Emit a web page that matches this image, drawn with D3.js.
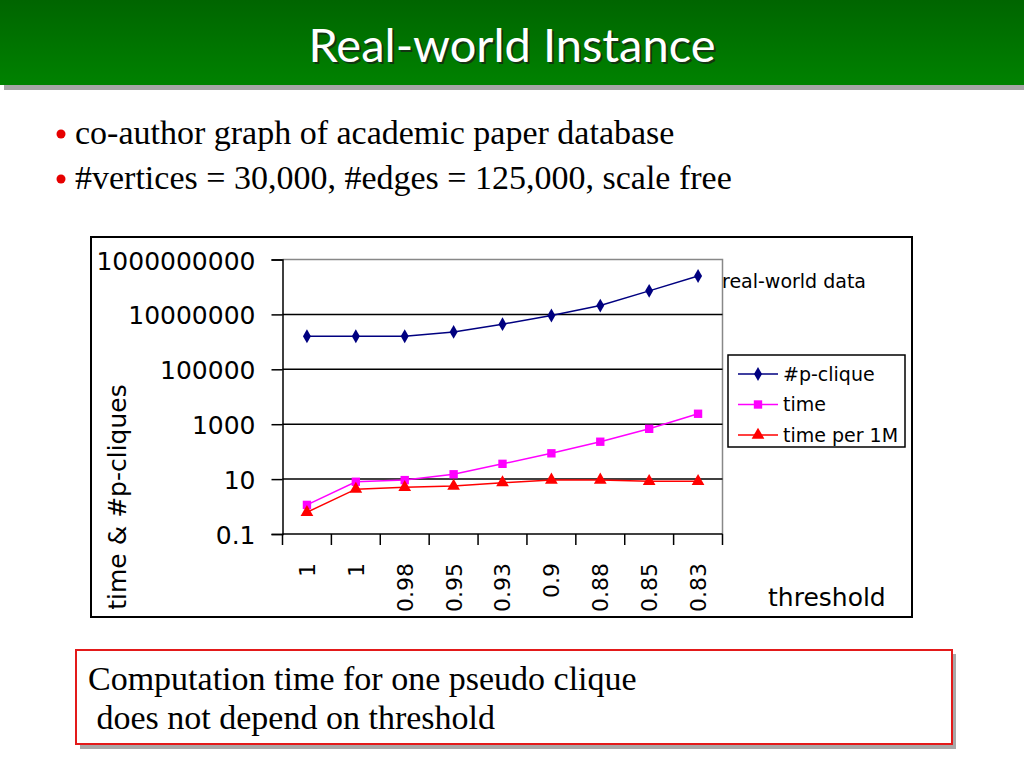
<!DOCTYPE html>
<html>
<head>
<meta charset="utf-8">
<script src="https://cdn.jsdelivr.net/npm/d3@7"></script>
<style>
  body { margin: 0; background: #fff; }
  svg { display: block; }
</style>
</head>
<body>
<div id="chart"></div>
<script>
// threshold categories (two runs at 1)
const thresholds = ["1", "1", "0.98", "0.95", "0.93", "0.9", "0.88", "0.85", "0.83"];

// values
const pClique = [1.6e6, 1.6e6, 1.6e6, 2.3e6, 4.4e6, 9.1e6, 2.1e7, 7.2e7, 2.5e8];
const timeSec = [1.15, 8, 9.2, 15, 36, 87, 230, 680, 2400];
const timePer1M = [0.62, 4.3, 5.0, 5.6, 7.4, 9.3, 9.3, 8.3, 8.3];

const yTicks = [0.1, 10, 1000, 100000, 10000000, 1000000000];
const yTickLabels = ["0.1", "10", "1000", "100000", "10000000", "1000000000"];

const seriesNames = ["#p-clique", "time", "time per 1M"];
const bullets = [
    "co-author graph of academic paper database",
    "#vertices = 30,000, #edges = 125,000, scale free"
];
const noteLines = ["Computation time for one pseudo clique", " does not depend on threshold"];

const series = [
    {name: seriesNames[0], values: pClique, color: "#000080", symbol: d3.symbolDiamond, size: 55},
    {name: seriesNames[1], values: timeSec, color: "#ff00ff", symbol: d3.symbolSquare, size: 70},
    {name: seriesNames[2], values: timePer1M, color: "#ff0000", symbol: d3.symbolTriangle, size: 70}
];

const svg = d3.select("#chart").append("svg")
    .attr("width", 1024)
    .attr("height", 768);

// ---- slide header ----
const defs = svg.append("defs");
const grad = defs.append("linearGradient").attr("id", "hdr").attr("x1", 0).attr("y1", 0).attr("x2", 0).attr("y2", 1);
grad.append("stop").attr("offset", "0%").attr("stop-color", "#006500");
grad.append("stop").attr("offset", "100%").attr("stop-color", "#008200");

svg.append("rect").attr("x", 4).attr("y", 84).attr("width", 1020).attr("height", 6).attr("fill", "#a6a6a6");
svg.append("rect").attr("x", 0).attr("y", 0).attr("width", 1024).attr("height", 85).attr("fill", "url(#hdr)");

svg.append("text")
    .attr("x", 514).attr("y", 64)
    .attr("text-anchor", "middle")
    .style("font-family", "Lato, sans-serif").style("font-size", "47px")
    .attr("fill", "#1a1a1a").attr("opacity", 0.7)
    .text("Real-world Instance");
svg.append("text")
    .attr("x", 512).attr("y", 62)
    .attr("text-anchor", "middle")
    .style("font-family", "Lato, sans-serif").style("font-size", "47px")
    .attr("fill", "#fff")
    .text("Real-world Instance");

// ---- bullets ----
bullets.forEach((t, i) => {
    const by = 144 + i * 45;
    svg.append("circle").attr("cx", 61).attr("cy", by - 10).attr("r", 4.5).attr("fill", "#e60000");
    svg.append("text")
        .attr("x", 75).attr("y", by)
        .style("font-family", "'Liberation Serif', serif").style("font-size", "34px")
        .text(t);
});

// ---- chart frame ----
svg.append("rect")
    .attr("x", 91).attr("y", 237).attr("width", 821).attr("height", 380)
    .attr("fill", "#fff").attr("stroke", "#000").attr("stroke-width", 2);

const plot = {left: 282.5, right: 722.5, top: 259.5, bottom: 534};

const x = d3.scaleBand()
    .domain(d3.range(thresholds.length))
    .range([plot.left, plot.right]);

const y = d3.scaleLog()
    .domain([0.1, 1e9])
    .range([plot.bottom, plot.top]);

// plot area border (top/right gray)
svg.append("path")
    .attr("d", `M${plot.left},${plot.top}H${plot.right}V${plot.bottom}`)
    .attr("fill", "none").attr("stroke", "#888").attr("stroke-width", 1.5);

// gridlines
svg.append("g")
    .selectAll("line")
    .data(yTicks.slice(1, -1))
    .enter().append("line")
    .attr("x1", plot.left).attr("x2", plot.right)
    .attr("y1", d => y(d)).attr("y2", d => y(d))
    .attr("stroke", "#000").attr("stroke-width", 1.5);

// y axis
const yAxis = svg.append("g")
    .attr("transform", `translate(${plot.left},0)`)
    .call(d3.axisLeft(y).tickValues(yTicks).tickSize(11).tickFormat((d, i) => yTickLabels[i]));
yAxis.select(".domain").attr("stroke", "#000").attr("stroke-width", 1.5);
yAxis.selectAll(".tick line").attr("stroke", "#000").attr("stroke-width", 1.5);
yAxis.selectAll(".tick text")
    .attr("x", -27)
    .attr("dy", "0.38em")
    .style("font-family", "'DejaVu Sans', sans-serif").style("font-size", "25px")
    .attr("fill", "#000");

// x axis: ticks at band boundaries
const bounds = d3.range(thresholds.length + 1).map(i => plot.left + i * x.step());
const xAxis = svg.append("g");
xAxis.append("line")
    .attr("x1", plot.left).attr("x2", plot.right)
    .attr("y1", plot.bottom).attr("y2", plot.bottom)
    .attr("stroke", "#000").attr("stroke-width", 1.5);
xAxis.selectAll(".xt")
    .data(bounds)
    .enter().append("line")
    .attr("x1", d => d).attr("x2", d => d)
    .attr("y1", plot.bottom).attr("y2", plot.bottom + 11)
    .attr("stroke", "#000").attr("stroke-width", 1.5);
xAxis.selectAll(".xl")
    .data(thresholds)
    .enter().append("text")
    .attr("transform", (d, i) => `translate(${x(i) + x.bandwidth() / 2},563) rotate(-90)`)
    .attr("text-anchor", "end")
    .attr("dy", "0.36em")
    .style("font-family", "'DejaVu Sans', sans-serif").style("font-size", "22px")
    .text(d => d);

// ---- series ----
const line = d3.line()
    .x((d, i) => x(i) + x.bandwidth() / 2)
    .y(d => y(d));

series.forEach(s => {
    svg.append("path")
        .datum(s.values)
        .attr("fill", "none")
        .attr("stroke", s.color)
        .attr("stroke-width", 1.5)
        .attr("d", line);
    svg.append("g")
        .selectAll("path")
        .data(s.values)
        .enter().append("path")
        .attr("transform", (d, i) => `translate(${x(i) + x.bandwidth() / 2},${y(d)})`)
        .attr("d", d3.symbol().type(s.symbol).size(s.size))
        .attr("fill", s.color);
});

// ---- labels ----
svg.append("text")
    .attr("transform", "translate(126,497) rotate(-90)")
    .attr("text-anchor", "middle")
    .style("font-family", "'DejaVu Sans', sans-serif").style("font-size", "25px")
    .text("time & #p-cliques");

svg.append("text")
    .attr("x", 768).attr("y", 606)
    .style("font-family", "'DejaVu Sans', sans-serif").style("font-size", "25px")
    .text("threshold");

svg.append("text")
    .attr("x", 722).attr("y", 288)
    .style("font-family", "'DejaVu Sans', sans-serif").style("font-size", "19px")
    .text("real-world data");

// ---- legend ----
const legend = svg.append("g");
legend.append("rect")
    .attr("x", 728).attr("y", 355).attr("width", 177).attr("height", 92)
    .attr("fill", "#fff").attr("stroke", "#000").attr("stroke-width", 1.5);
series.forEach((s, i) => {
    const ly = 374 + i * 30.5;
    legend.append("line")
        .attr("x1", 738).attr("x2", 778).attr("y1", ly).attr("y2", ly)
        .attr("stroke", s.color).attr("stroke-width", 1.5);
    legend.append("path")
        .attr("transform", `translate(758,${ly})`)
        .attr("d", d3.symbol().type(s.symbol).size(s.size))
        .attr("fill", s.color);
    legend.append("text")
        .attr("x", 783).attr("y", ly).attr("dy", "0.35em")
        .style("font-family", "'DejaVu Sans', sans-serif").style("font-size", "19px")
        .text(s.name);
});

// ---- note box ----
svg.append("rect")
    .attr("x", 80).attr("y", 654).attr("width", 876).attr("height", 95)
    .attr("fill", "#a8a8a8");
svg.append("rect")
    .attr("x", 76).attr("y", 650).attr("width", 876).attr("height", 94)
    .attr("fill", "#fff").attr("stroke", "#e31a1a").attr("stroke-width", 2);
noteLines.forEach((t, i) => {
    svg.append("text")
        .attr("x", 88).attr("y", 690 + i * 39)
        .attr("xml:space", "preserve")
        .style("white-space", "pre")
        .style("font-family", "'Liberation Serif', serif").style("font-size", "34px")
        .text(t);
});
</script>
</body>
</html>
